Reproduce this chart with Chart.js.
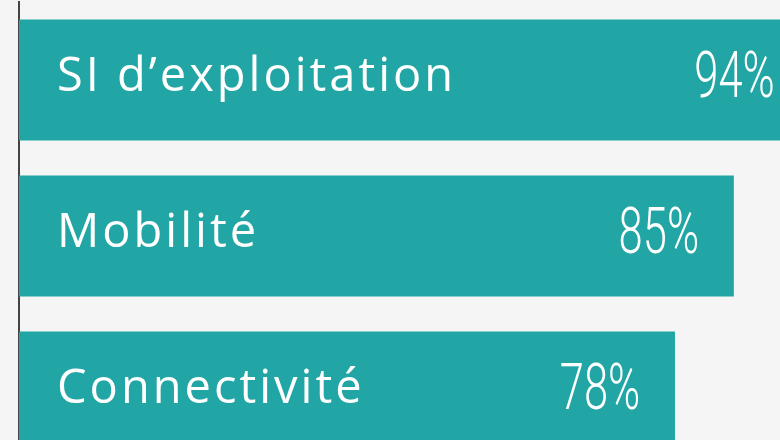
<!DOCTYPE html>
<html><head><meta charset="utf-8">
<script src="https://cdn.jsdelivr.net/npm/chart.js@4/dist/chart.umd.min.js"></script>
<style>
html,body{margin:0;padding:0;background:#f5f5f5;overflow:hidden;width:780px;height:440px;}
#wrap{position:absolute;left:0;top:0;width:860px;height:470px;}
</style></head><body>
<div id="wrap"><canvas id="c" width="860" height="470"></canvas></div>
<script>
const categories = ["SI d\u2019exploitation", "Mobilit\u00e9", "Connectivit\u00e9"];
const values = [94, 85, 78];
const valueLabels = ["94%", "85%", "78%"];

const labelPlugin = {
  id: 'inbarLabels',
  afterDatasetsDraw(chart) {
    const ctx = chart.ctx;
    const meta = chart.getDatasetMeta(0);
    ctx.save();
    ctx.fillStyle = '#ffffff';
    meta.data.forEach((bar, i) => {
      const y = bar.y;
      ctx.save();
      ctx.font = '400 47px "Open Sans", Lato, sans-serif';
      ctx.textAlign = 'left';
      ctx.textBaseline = 'middle';
      ctx.letterSpacing = '3px';
      ctx.fillText(categories[i], bar.base + 38, y - 2);
      ctx.restore();
      ctx.save();
      ctx.font = '300 64px Roboto, "Liberation Sans Narrow", sans-serif';
      ctx.textAlign = 'center';
      ctx.textBaseline = 'middle';
      ctx.translate(bar.x - 75, y + 1);
      ctx.scale(0.68, 1);
      ctx.fillText(valueLabels[i], 0, 0);
      ctx.restore();
    });
    ctx.restore();
  }
};

new Chart(document.getElementById('c'), {
  type: 'bar',
  data: {
    labels: categories,
    datasets: [{
      data: values,
      backgroundColor: '#21a6a5',
      borderWidth: 0,
      barPercentage: 121/156,
      categoryPercentage: 1
    }]
  },
  options: {
    indexAxis: 'y',
    responsive: false,
    animation: false,
    devicePixelRatio: 1,
    layout: { padding: { left: 19, top: 2, right: 0, bottom: 0 } },
    plugins: { legend: { display: false }, tooltip: { enabled: false } },
    scales: {
      x: { display: false, min: 0, max: 100 },
      y: {
        display: true,
        grid: { display: false, drawTicks: false },
        ticks: { display: false },
        border: { display: true, color: '#444444', width: 2 }
      }
    }
  },
  plugins: [labelPlugin]
});
</script>
</body></html>
